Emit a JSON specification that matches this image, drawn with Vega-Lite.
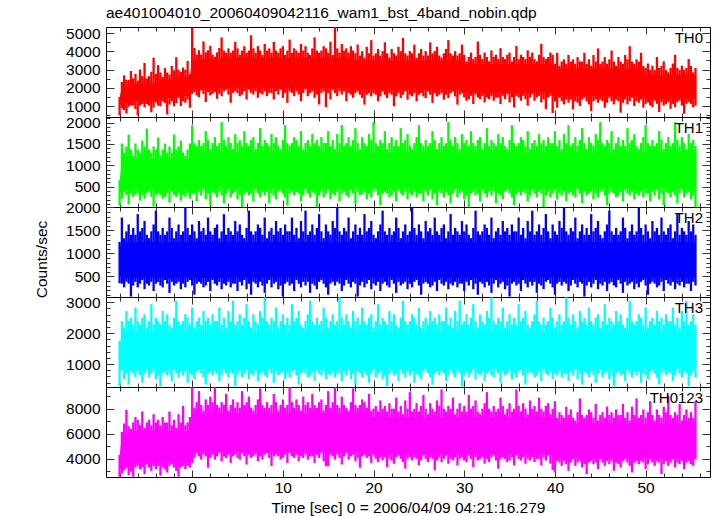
{
"$schema": "https://vega.github.io/schema/vega-lite/v6.json",
"background": "white",
"padding": {"left": 33, "top": 6, "right": 5, "bottom": 2},
"title": {"text": "ae401004010_20060409042116_wam1_bst_4band_nobin.qdp", "anchor": "start", "frame": "group", "fontSize": 15.5, "fontWeight": "normal", "font": "Liberation Sans", "color": "#000", "offset": 4},
"spacing": 0,
"bounds": "flush",
"datasets": {
"core": [
{"t":-8,"p":1000,"P":1450,"q":300,"Q":600,"r":500,"R":1100,"s":700,"S":1500,"u":3000,"U":4200},
{"t":-7.75,"p":1150,"P":2050,"q":450,"Q":1150,"r":470,"R":1250,"s":900,"S":2050,"u":3500,"U":5900},
{"t":-6.75,"p":1150,"P":2050,"q":450,"Q":1150,"r":470,"R":1250,"s":900,"S":2050,"u":3500,"U":5900},
{"t":-6.5,"p":1300,"P":2250,"q":450,"Q":1150,"r":470,"R":1250,"s":900,"S":2050,"u":3700,"U":6200},
{"t":-3.75,"p":1300,"P":2250,"q":450,"Q":1150,"r":470,"R":1250,"s":900,"S":2050,"u":3700,"U":6200},
{"t":-3.5,"p":1450,"P":2450,"q":450,"Q":1150,"r":470,"R":1250,"s":900,"S":2050,"u":3700,"U":6200},
{"t":-1.75,"p":1450,"P":2450,"q":450,"Q":1150,"r":470,"R":1250,"s":900,"S":2050,"u":3700,"U":6200},
{"t":-1.5,"p":1550,"P":2600,"q":450,"Q":1150,"r":470,"R":1250,"s":900,"S":2050,"u":3700,"U":6200},
{"t":-0.25,"p":1550,"P":2600,"q":450,"Q":1150,"r":470,"R":1250,"s":900,"S":2050,"u":3700,"U":6200},
{"t":0,"p":1950,"P":3550,"q":480,"Q":1300,"r":470,"R":1250,"s":900,"S":2050,"u":4600,"U":7600},
{"t":3,"p":1950,"P":3550,"q":480,"Q":1300,"r":470,"R":1250,"s":900,"S":2050,"u":4600,"U":7600},
{"t":3.25,"p":2000,"P":3650,"q":480,"Q":1300,"r":470,"R":1250,"s":900,"S":2050,"u":4600,"U":7600},
{"t":17.75,"p":2000,"P":3650,"q":480,"Q":1300,"r":470,"R":1250,"s":900,"S":2050,"u":4600,"U":7600},
{"t":18,"p":1900,"P":3500,"q":480,"Q":1300,"r":470,"R":1250,"s":900,"S":2050,"u":4600,"U":7600},
{"t":19.75,"p":1900,"P":3500,"q":480,"Q":1300,"r":470,"R":1250,"s":900,"S":2050,"u":4600,"U":7600},
{"t":20,"p":1900,"P":3500,"q":480,"Q":1300,"r":470,"R":1250,"s":900,"S":2050,"u":4400,"U":7300},
{"t":29.75,"p":1900,"P":3500,"q":480,"Q":1300,"r":470,"R":1250,"s":900,"S":2050,"u":4400,"U":7300},
{"t":30,"p":1750,"P":3300,"q":480,"Q":1300,"r":470,"R":1250,"s":900,"S":2050,"u":4400,"U":7300},
{"t":39.75,"p":1750,"P":3300,"q":480,"Q":1300,"r":470,"R":1250,"s":900,"S":2050,"u":4400,"U":7300},
{"t":40,"p":1550,"P":3050,"q":480,"Q":1300,"r":470,"R":1250,"s":900,"S":2050,"u":4100,"U":6800},
{"t":49.75,"p":1550,"P":3050,"q":480,"Q":1300,"r":470,"R":1250,"s":900,"S":2050,"u":4100,"U":6800},
{"t":50,"p":1400,"P":2700,"q":480,"Q":1300,"r":470,"R":1250,"s":900,"S":2050,"u":4100,"U":6800},
{"t":55.5,"p":1400,"P":2700,"q":480,"Q":1300,"r":470,"R":1250,"s":900,"S":2050,"u":4100,"U":6800}
],
"lc": [
{"t":-8,"a":500,"A":1500,"b":60,"B":650,"c":350,"C":1250,"d":290,"D":1750,"e":2560,"E":4300},
{"t":-7.75,"a":870,"A":2320,"b":220,"B":1510,"c":340,"C":1780,"d":820,"D":2390,"e":2830,"E":6150},
{"t":-7.5,"a":780,"A":2680,"b":400,"B":1300,"c":260,"C":1330,"d":520,"D":2170,"e":3090,"E":6810},
{"t":-7.25,"a":600,"A":2440,"b":310,"B":1440,"c":380,"C":1480,"d":700,"D":2720,"e":3220,"E":7910},
{"t":-7,"a":960,"A":2440,"b":85,"B":1720,"c":340,"C":1630,"d":340,"D":2390,"e":2700,"E":6590},
{"t":-6.75,"a":1050,"A":2920,"b":355,"B":1370,"c":60,"C":1405,"d":760,"D":2500,"e":2960,"E":6370},
{"t":-6.5,"a":1020,"A":2520,"b":265,"B":1230,"c":300,"C":1555,"d":700,"D":2280,"e":2560,"E":6890},
{"t":-6.25,"a":840,"A":2760,"b":310,"B":1510,"c":380,"C":1405,"d":580,"D":2830,"e":3290,"E":7330},
{"t":-6,"a":480,"A":2400,"b":355,"B":1370,"c":260,"C":1855,"d":760,"D":2390,"e":3420,"E":7110},
{"t":-5.75,"a":1020,"A":3000,"b":175,"B":1300,"c":340,"C":1480,"d":640,"D":2280,"e":3160,"E":6670},
{"t":-5.5,"a":1110,"A":2640,"b":310,"B":1580,"c":420,"C":1555,"d":400,"D":2500,"e":3290,"E":7770},
{"t":-5.25,"a":930,"A":3360,"b":220,"B":1440,"c":220,"C":1705,"d":700,"D":2610,"e":2770,"E":6450},
{"t":-5,"a":1110,"A":2520,"b":355,"B":1860,"c":340,"C":1405,"d":820,"D":2170,"e":3550,"E":6890},
{"t":-4.75,"a":1020,"A":2640,"b":400,"B":1370,"c":300,"C":1330,"d":580,"D":2390,"e":3290,"E":7110},
{"t":-4.5,"a":660,"A":2880,"b":265,"B":1300,"c":380,"C":1480,"d":700,"D":2940,"e":3030,"E":6670},
{"t":-4.25,"a":930,"A":3650,"b":40,"B":1440,"c":180,"C":1630,"d":760,"D":2280,"e":3420,"E":7550},
{"t":-4,"a":1200,"A":2760,"b":310,"B":1370,"c":340,"C":1930,"d":520,"D":2500,"e":3160,"E":6890},
{"t":-3.75,"a":1020,"A":3240,"b":355,"B":1650,"c":380,"C":1480,"d":640,"D":2390,"e":3420,"E":7110},
{"t":-3.5,"a":990,"A":2840,"b":310,"B":1230,"c":300,"C":1405,"d":280,"D":2280,"e":2640,"E":6670},
{"t":-3.25,"a":1260,"A":2600,"b":220,"B":1370,"c":260,"C":1555,"d":700,"D":2720,"e":3290,"E":7330},
{"t":-3,"a":1170,"A":3080,"b":265,"B":1510,"c":420,"C":1405,"d":760,"D":2390,"e":3160,"E":6890},
{"t":-2.75,"a":540,"A":2840,"b":355,"B":1300,"c":340,"C":1480,"d":640,"D":2610,"e":2900,"E":6890},
{"t":-2.5,"a":1080,"A":2720,"b":130,"B":1440,"c":140,"C":1780,"d":700,"D":2280,"e":3420,"E":7770},
{"t":-2.25,"a":1260,"A":3200,"b":400,"B":1300,"c":380,"C":1555,"d":460,"D":2170,"e":3550,"E":6670},
{"t":-2,"a":990,"A":2960,"b":310,"B":1720,"c":300,"C":1330,"d":820,"D":2500,"e":3290,"E":7110},
{"t":-1.75,"a":1170,"A":3680,"b":265,"B":1370,"c":340,"C":1480,"d":700,"D":3050,"e":3030,"E":6450},
{"t":-1.5,"a":1450,"A":2990,"b":355,"B":1440,"c":380,"C":1630,"d":580,"D":2390,"e":2560,"E":7550},
{"t":-1.25,"a":1000,"A":2870,"b":175,"B":1580,"c":220,"C":1405,"d":760,"D":2280,"e":3290,"E":6890},
{"t":-1,"a":1270,"A":3110,"b":310,"B":1300,"c":340,"C":1480,"d":640,"D":2390,"e":3420,"E":8210},
{"t":-0.75,"a":1180,"A":2990,"b":265,"B":1230,"c":260,"C":2005,"d":760,"D":2610,"e":3160,"E":6670},
{"t":-0.5,"a":1360,"A":3470,"b":355,"B":1370,"c":380,"C":1555,"d":400,"D":2500,"e":3420,"E":6890},
{"t":-0.25,"a":910,"A":2750,"b":220,"B":1510,"c":420,"C":1405,"d":700,"D":2280,"e":3290,"E":7330},
{"t":0,"a":1670,"A":5300,"b":340,"B":1940,"c":300,"C":1630,"d":640,"D":2830,"e":3670,"E":9700},
{"t":0.25,"a":1760,"A":4180,"b":340,"B":1520,"c":100,"C":1480,"d":520,"D":2170,"e":4060,"E":8070},
{"t":0.5,"a":1580,"A":3820,"b":160,"B":1450,"c":340,"C":1330,"d":760,"D":2390,"e":4450,"E":8510},
{"t":0.75,"a":1490,"A":4060,"b":385,"B":1590,"c":380,"C":1705,"d":820,"D":2500,"e":4190,"E":9390},
{"t":1,"a":1850,"A":3820,"b":295,"B":1450,"c":340,"C":1480,"d":700,"D":2280,"e":3930,"E":8290},
{"t":1.25,"a":1670,"A":4540,"b":430,"B":1520,"c":260,"C":1555,"d":580,"D":2720,"e":4320,"E":7850},
{"t":1.5,"a":1220,"A":3940,"b":205,"B":1800,"c":300,"C":1405,"d":340,"D":2390,"e":4190,"E":8730},
{"t":1.75,"a":1760,"A":4060,"b":340,"B":1590,"c":380,"C":1780,"d":700,"D":2500,"e":3280,"E":8290},
{"t":2,"a":1580,"A":4300,"b":70,"B":1380,"c":180,"C":1480,"d":760,"D":2280,"e":4060,"E":8950},
{"t":2.25,"a":1670,"A":3820,"b":385,"B":1520,"c":420,"C":1405,"d":640,"D":2610,"e":4320,"E":8510},
{"t":2.5,"a":1760,"A":3700,"b":340,"B":1660,"c":340,"C":1555,"d":760,"D":2390,"e":3930,"E":9700},
{"t":2.75,"a":1400,"A":3940,"b":250,"B":1450,"c":300,"C":1630,"d":700,"D":2390,"e":4190,"E":8290},
{"t":3,"a":1670,"A":4180,"b":385,"B":1520,"c":380,"C":1330,"d":460,"D":2830,"e":4450,"E":8070},
{"t":3.25,"a":1540,"A":4760,"b":295,"B":2010,"c":220,"C":1480,"d":640,"D":2280,"e":3800,"E":8510},
{"t":3.5,"a":1810,"A":4040,"b":115,"B":1590,"c":340,"C":1855,"d":820,"D":2500,"e":4190,"E":8290},
{"t":3.75,"a":1900,"A":3920,"b":340,"B":1450,"c":300,"C":1405,"d":700,"D":2170,"e":4060,"E":9170},
{"t":4,"a":1630,"A":4160,"b":430,"B":1660,"c":380,"C":1555,"d":580,"D":2720,"e":4320,"E":7850},
{"t":4.25,"a":1180,"A":3920,"b":250,"B":1520,"c":260,"C":1480,"d":760,"D":2390,"e":3670,"E":8290},
{"t":4.5,"a":1720,"A":4040,"b":340,"B":1380,"c":340,"C":1405,"d":700,"D":3050,"e":4190,"E":8730},
{"t":4.75,"a":1810,"A":4520,"b":385,"B":1730,"c":340,"C":1705,"d":280,"D":2280,"e":4320,"E":8070},
{"t":5,"a":1720,"A":4160,"b":205,"B":1520,"c":180,"C":1480,"d":640,"D":2390,"e":4060,"E":8510},
{"t":5.25,"a":1540,"A":3800,"b":295,"B":1590,"c":380,"C":1630,"d":760,"D":2610,"e":3930,"E":8070},
{"t":5.5,"a":1630,"A":4040,"b":25,"B":1450,"c":300,"C":1405,"d":580,"D":2280,"e":4450,"E":9390},
{"t":5.75,"a":1810,"A":4280,"b":340,"B":1800,"c":420,"C":1330,"d":700,"D":2500,"e":4190,"E":8290},
{"t":6,"a":1360,"A":3920,"b":385,"B":1520,"c":220,"C":1555,"d":820,"D":2940,"e":3540,"E":8510},
{"t":6.25,"a":1900,"A":4040,"b":295,"B":1450,"c":340,"C":1930,"d":520,"D":2390,"e":4320,"E":8950},
{"t":6.5,"a":1720,"A":4880,"b":340,"B":1590,"c":100,"C":1480,"d":700,"D":2170,"e":4060,"E":8070},
{"t":6.75,"a":1630,"A":4160,"b":160,"B":1660,"c":380,"C":1405,"d":640,"D":2610,"e":4190,"E":7850},
{"t":7,"a":1810,"A":3920,"b":430,"B":1380,"c":340,"C":1480,"d":760,"D":2390,"e":4320,"E":8290},
{"t":7.25,"a":1450,"A":4280,"b":340,"B":1520,"c":260,"C":1630,"d":460,"D":2280,"e":3800,"E":8730},
{"t":7.5,"a":1720,"A":4040,"b":250,"B":1870,"c":380,"C":1555,"d":700,"D":2720,"e":4190,"E":9610},
{"t":7.75,"a":1630,"A":3800,"b":385,"B":1450,"c":300,"C":1405,"d":760,"D":2500,"e":3930,"E":8290},
{"t":8,"a":1810,"A":4400,"b":295,"B":1590,"c":140,"C":1780,"d":640,"D":3160,"e":4320,"E":8070},
{"t":8.25,"a":1540,"A":4040,"b":385,"B":1520,"c":340,"C":1330,"d":580,"D":2390,"e":4450,"E":8510},
{"t":8.5,"a":1720,"A":4160,"b":115,"B":1450,"c":420,"C":1480,"d":820,"D":2280,"e":4060,"E":8070},
{"t":8.75,"a":1720,"A":3920,"b":340,"B":1730,"c":260,"C":1555,"d":700,"D":2500,"e":3410,"E":8290},
{"t":9,"a":1360,"A":4520,"b":295,"B":1520,"c":340,"C":1405,"d":400,"D":2390,"e":4190,"E":9170},
{"t":9.25,"a":1810,"A":4040,"b":205,"B":1660,"c":380,"C":1705,"d":760,"D":2830,"e":4320,"E":8510},
{"t":9.5,"a":1630,"A":3920,"b":385,"B":1450,"c":220,"C":1480,"d":640,"D":2170,"e":4190,"E":7850},
{"t":9.75,"a":1900,"A":4160,"b":430,"B":1380,"c":300,"C":1555,"d":700,"D":2390,"e":3930,"E":8290},
{"t":10,"a":1450,"A":4280,"b":340,"B":1590,"c":60,"C":1405,"d":760,"D":2610,"e":4060,"E":8730},
{"t":10.25,"a":1720,"A":3800,"b":250,"B":1940,"c":340,"C":1630,"d":520,"D":2280,"e":4320,"E":8070},
{"t":10.5,"a":1180,"A":4040,"b":70,"B":1520,"c":380,"C":1480,"d":700,"D":2500,"e":3670,"E":8290},
{"t":10.75,"a":1810,"A":4640,"b":340,"B":1450,"c":300,"C":1480,"d":580,"D":2280,"e":4450,"E":9700},
{"t":11,"a":1720,"A":3920,"b":385,"B":1520,"c":340,"C":1780,"d":760,"D":2940,"e":4190,"E":8510},
{"t":11.25,"a":1540,"A":4160,"b":295,"B":1660,"c":180,"C":1405,"d":820,"D":2390,"e":4060,"E":8070},
{"t":11.5,"a":1810,"A":4040,"b":385,"B":1590,"c":420,"C":1555,"d":640,"D":2500,"e":4320,"E":8730},
{"t":11.75,"a":1630,"A":3920,"b":340,"B":1450,"c":340,"C":1330,"d":340,"D":2720,"e":3800,"E":8290},
{"t":12,"a":1270,"A":4400,"b":160,"B":1800,"c":260,"C":1705,"d":700,"D":2280,"e":4190,"E":7850},
{"t":12.25,"a":1720,"A":4040,"b":295,"B":1380,"c":380,"C":1480,"d":760,"D":2170,"e":4060,"E":8950},
{"t":12.5,"a":1900,"A":4280,"b":430,"B":1520,"c":300,"C":1930,"d":700,"D":2390,"e":4320,"E":8290},
{"t":12.75,"a":1540,"A":3920,"b":340,"B":1590,"c":380,"C":1405,"d":580,"D":2610,"e":3930,"E":8510},
{"t":13,"a":1720,"A":3800,"b":250,"B":1450,"c":140,"C":1480,"d":640,"D":3050,"e":4190,"E":8070},
{"t":13.25,"a":1810,"A":4160,"b":385,"B":1730,"c":340,"C":1630,"d":760,"D":2390,"e":4190,"E":9170},
{"t":13.5,"a":1450,"A":4760,"b":340,"B":1520,"c":300,"C":1405,"d":460,"D":2280,"e":3670,"E":8290},
{"t":13.75,"a":1630,"A":4040,"b":25,"B":1590,"c":220,"C":1555,"d":820,"D":2500,"e":4320,"E":8070},
{"t":14,"a":1090,"A":3920,"b":295,"B":1450,"c":380,"C":1855,"d":700,"D":2280,"e":4060,"E":8510},
{"t":14.25,"a":1720,"A":4040,"b":385,"B":1660,"c":420,"C":1480,"d":640,"D":2390,"e":4450,"E":8730},
{"t":14.5,"a":1810,"A":4280,"b":250,"B":1520,"c":340,"C":1330,"d":760,"D":2830,"e":3800,"E":7850},
{"t":14.75,"a":950,"A":4160,"b":340,"B":1520,"c":260,"C":1630,"d":520,"D":2500,"e":3400,"E":8290},
{"t":15,"a":1720,"A":3920,"b":430,"B":1800,"c":100,"C":1480,"d":700,"D":2170,"e":3410,"E":9390},
{"t":15.25,"a":1360,"A":4520,"b":205,"B":1450,"c":340,"C":1405,"d":640,"D":2390,"e":4320,"E":8070},
{"t":15.5,"a":1900,"A":3800,"b":340,"B":1590,"c":380,"C":1705,"d":760,"D":2610,"e":4190,"E":8510},
{"t":15.75,"a":1720,"A":5330,"b":295,"B":1380,"c":300,"C":1555,"d":580,"D":2280,"e":3930,"E":9700},
{"t":16,"a":1540,"A":4160,"b":385,"B":1730,"c":380,"C":2005,"d":700,"D":2390,"e":4320,"E":8290},
{"t":16.25,"a":1810,"A":3920,"b":160,"B":1520,"c":340,"C":1480,"d":700,"D":3160,"e":4060,"E":8070},
{"t":16.5,"a":1630,"A":4400,"b":340,"B":1940,"c":180,"C":1405,"d":460,"D":2500,"e":3540,"E":8950},
{"t":16.75,"a":1810,"A":4040,"b":385,"B":1450,"c":300,"C":1555,"d":760,"D":2280,"e":4190,"E":8290},
{"t":17,"a":1270,"A":4160,"b":295,"B":1520,"c":420,"C":1480,"d":640,"D":2610,"e":4450,"E":8070},
{"t":17.25,"a":1720,"A":3920,"b":250,"B":1660,"c":340,"C":1780,"d":820,"D":2390,"e":3930,"E":7850},
{"t":17.5,"a":1630,"A":4280,"b":430,"B":1450,"c":260,"C":1330,"d":520,"D":2170,"e":4190,"E":8510},
{"t":17.75,"a":1450,"A":4040,"b":340,"B":1590,"c":380,"C":1480,"d":700,"D":2720,"e":4320,"E":9610},
{"t":18,"a":1710,"A":3890,"b":115,"B":1870,"c":340,"C":1630,"d":340,"D":2390,"e":3800,"E":8290},
{"t":18.25,"a":1800,"A":4370,"b":385,"B":1520,"c":60,"C":1405,"d":760,"D":2500,"e":4060,"E":8070},
{"t":18.5,"a":1620,"A":3770,"b":295,"B":1380,"c":300,"C":1555,"d":700,"D":2280,"e":3280,"E":8290},
{"t":18.75,"a":1440,"A":4010,"b":340,"B":1660,"c":380,"C":1405,"d":580,"D":2830,"e":4190,"E":8730},
{"t":19,"a":1080,"A":3650,"b":385,"B":1520,"c":260,"C":1855,"d":760,"D":2390,"e":4320,"E":8510},
{"t":19.25,"a":1620,"A":4250,"b":205,"B":1450,"c":340,"C":1480,"d":640,"D":2280,"e":4060,"E":8070},
{"t":19.5,"a":1710,"A":3890,"b":340,"B":1730,"c":420,"C":1555,"d":400,"D":2500,"e":4190,"E":9170},
{"t":19.75,"a":1530,"A":4610,"b":250,"B":1590,"c":220,"C":1705,"d":700,"D":2610,"e":3670,"E":7850},
{"t":20,"a":1710,"A":3770,"b":385,"B":2010,"c":340,"C":1405,"d":820,"D":2170,"e":4250,"E":7990},
{"t":20.25,"a":1620,"A":3890,"b":430,"B":1520,"c":300,"C":1330,"d":580,"D":2390,"e":3990,"E":8210},
{"t":20.5,"a":1260,"A":4130,"b":295,"B":1450,"c":380,"C":1480,"d":700,"D":2940,"e":3730,"E":7770},
{"t":20.75,"a":1530,"A":3770,"b":70,"B":1590,"c":180,"C":1630,"d":760,"D":2280,"e":4120,"E":8650},
{"t":21,"a":1800,"A":4010,"b":340,"B":1520,"c":340,"C":1930,"d":520,"D":2500,"e":3860,"E":7990},
{"t":21.25,"a":1620,"A":4490,"b":385,"B":1800,"c":380,"C":1480,"d":640,"D":2390,"e":4120,"E":8210},
{"t":21.5,"a":1440,"A":3890,"b":340,"B":1380,"c":300,"C":1405,"d":280,"D":2280,"e":3340,"E":7770},
{"t":21.75,"a":1710,"A":3650,"b":250,"B":1520,"c":260,"C":1555,"d":700,"D":2720,"e":3990,"E":8430},
{"t":22,"a":1620,"A":4130,"b":295,"B":1660,"c":420,"C":1405,"d":760,"D":2390,"e":3860,"E":7990},
{"t":22.25,"a":990,"A":3890,"b":385,"B":1450,"c":340,"C":1480,"d":640,"D":2610,"e":3600,"E":7990},
{"t":22.5,"a":1530,"A":3770,"b":160,"B":1590,"c":140,"C":1780,"d":700,"D":2280,"e":4120,"E":8870},
{"t":22.75,"a":1710,"A":4250,"b":430,"B":1450,"c":380,"C":1555,"d":460,"D":2170,"e":4250,"E":7770},
{"t":23,"a":1440,"A":4010,"b":340,"B":1870,"c":300,"C":1330,"d":820,"D":2500,"e":3990,"E":8210},
{"t":23.25,"a":1620,"A":4730,"b":295,"B":1520,"c":340,"C":1480,"d":700,"D":3050,"e":3730,"E":7550},
{"t":23.5,"a":1800,"A":3890,"b":385,"B":1590,"c":380,"C":1630,"d":580,"D":2390,"e":3210,"E":8650},
{"t":23.75,"a":1350,"A":3770,"b":205,"B":1730,"c":220,"C":1405,"d":760,"D":2280,"e":3990,"E":7990},
{"t":24,"a":1620,"A":4010,"b":340,"B":1450,"c":340,"C":1480,"d":640,"D":2390,"e":4120,"E":9310},
{"t":24.25,"a":1530,"A":3890,"b":295,"B":1380,"c":260,"C":2005,"d":760,"D":2610,"e":3860,"E":7770},
{"t":24.5,"a":1710,"A":4370,"b":385,"B":1520,"c":380,"C":1555,"d":400,"D":2500,"e":4120,"E":7990},
{"t":24.75,"a":1260,"A":3650,"b":250,"B":1660,"c":420,"C":1405,"d":700,"D":2280,"e":3990,"E":8430},
{"t":25,"a":1620,"A":3890,"b":340,"B":1940,"c":300,"C":1630,"d":640,"D":2830,"e":3470,"E":7770},
{"t":25.25,"a":1710,"A":4130,"b":340,"B":1520,"c":100,"C":1480,"d":520,"D":2170,"e":3860,"E":8210},
{"t":25.5,"a":1530,"A":3770,"b":160,"B":1450,"c":340,"C":1330,"d":760,"D":2390,"e":4250,"E":9090},
{"t":25.75,"a":1440,"A":4010,"b":385,"B":1590,"c":380,"C":1705,"d":820,"D":2500,"e":3990,"E":7990},
{"t":26,"a":1800,"A":3770,"b":295,"B":1450,"c":340,"C":1480,"d":700,"D":2280,"e":3730,"E":7550},
{"t":26.25,"a":1620,"A":4490,"b":430,"B":1520,"c":260,"C":1555,"d":580,"D":2720,"e":4120,"E":8430},
{"t":26.5,"a":1170,"A":3890,"b":205,"B":1800,"c":300,"C":1405,"d":340,"D":2390,"e":3990,"E":7990},
{"t":26.75,"a":1710,"A":4010,"b":340,"B":1590,"c":380,"C":1780,"d":700,"D":2500,"e":3080,"E":7770},
{"t":27,"a":1530,"A":4250,"b":70,"B":1380,"c":180,"C":1480,"d":760,"D":2280,"e":3860,"E":8650},
{"t":27.25,"a":1620,"A":3770,"b":385,"B":1520,"c":420,"C":1405,"d":640,"D":2610,"e":4120,"E":8210},
{"t":27.5,"a":1710,"A":3650,"b":340,"B":1660,"c":340,"C":1555,"d":760,"D":2390,"e":3730,"E":9530},
{"t":27.75,"a":1350,"A":3890,"b":250,"B":1450,"c":300,"C":1630,"d":700,"D":2390,"e":3990,"E":7990},
{"t":28,"a":1620,"A":4130,"b":385,"B":1520,"c":380,"C":1330,"d":460,"D":2830,"e":4250,"E":7770},
{"t":28.25,"a":1440,"A":4610,"b":295,"B":2010,"c":220,"C":1480,"d":640,"D":2280,"e":3600,"E":8210},
{"t":28.5,"a":1710,"A":3890,"b":115,"B":1590,"c":340,"C":1855,"d":820,"D":2500,"e":3990,"E":7990},
{"t":28.75,"a":1800,"A":3770,"b":340,"B":1450,"c":300,"C":1405,"d":700,"D":2170,"e":3860,"E":8870},
{"t":29,"a":1530,"A":4010,"b":430,"B":1660,"c":380,"C":1555,"d":580,"D":2720,"e":4120,"E":7550},
{"t":29.25,"a":1080,"A":3770,"b":250,"B":1520,"c":260,"C":1480,"d":760,"D":2390,"e":3470,"E":7990},
{"t":29.5,"a":1620,"A":3890,"b":340,"B":1380,"c":340,"C":1405,"d":700,"D":3050,"e":3990,"E":8430},
{"t":29.75,"a":1710,"A":4370,"b":385,"B":1730,"c":340,"C":1705,"d":280,"D":2280,"e":4120,"E":7770},
{"t":30,"a":1470,"A":3810,"b":205,"B":1520,"c":180,"C":1480,"d":640,"D":2390,"e":3860,"E":8210},
{"t":30.25,"a":1290,"A":3450,"b":295,"B":1590,"c":380,"C":1630,"d":760,"D":2610,"e":3730,"E":7770},
{"t":30.5,"a":1380,"A":3690,"b":25,"B":1450,"c":300,"C":1405,"d":580,"D":2280,"e":4250,"E":9090},
{"t":30.75,"a":1560,"A":3930,"b":340,"B":1800,"c":420,"C":1330,"d":700,"D":2500,"e":3990,"E":7990},
{"t":31,"a":1110,"A":3570,"b":385,"B":1520,"c":220,"C":1555,"d":820,"D":2940,"e":3340,"E":8210},
{"t":31.25,"a":1650,"A":3690,"b":295,"B":1450,"c":340,"C":1930,"d":520,"D":2390,"e":4120,"E":8650},
{"t":31.5,"a":1470,"A":4530,"b":340,"B":1590,"c":100,"C":1480,"d":700,"D":2170,"e":3860,"E":7770},
{"t":31.75,"a":1380,"A":3810,"b":160,"B":1660,"c":380,"C":1405,"d":640,"D":2610,"e":3990,"E":7550},
{"t":32,"a":1560,"A":3570,"b":430,"B":1380,"c":340,"C":1480,"d":760,"D":2390,"e":4120,"E":7990},
{"t":32.25,"a":1200,"A":3930,"b":340,"B":1520,"c":260,"C":1630,"d":460,"D":2280,"e":3600,"E":8430},
{"t":32.5,"a":1470,"A":3690,"b":250,"B":1870,"c":380,"C":1555,"d":700,"D":2720,"e":3990,"E":9310},
{"t":32.75,"a":1380,"A":3450,"b":385,"B":1450,"c":300,"C":1405,"d":760,"D":2500,"e":3730,"E":7990},
{"t":33,"a":1560,"A":4050,"b":295,"B":1590,"c":140,"C":1780,"d":640,"D":3160,"e":4120,"E":7770},
{"t":33.25,"a":1290,"A":3690,"b":385,"B":1520,"c":340,"C":1330,"d":580,"D":2390,"e":4250,"E":8210},
{"t":33.5,"a":1470,"A":3810,"b":115,"B":1450,"c":420,"C":1480,"d":820,"D":2280,"e":3860,"E":7770},
{"t":33.75,"a":1470,"A":3570,"b":340,"B":1730,"c":260,"C":1555,"d":700,"D":2500,"e":3210,"E":7990},
{"t":34,"a":1110,"A":4170,"b":295,"B":1520,"c":340,"C":1405,"d":400,"D":2390,"e":3990,"E":8870},
{"t":34.25,"a":1560,"A":3690,"b":205,"B":1660,"c":380,"C":1705,"d":760,"D":2830,"e":4120,"E":8210},
{"t":34.5,"a":1380,"A":3570,"b":385,"B":1450,"c":220,"C":1480,"d":640,"D":2170,"e":3990,"E":7550},
{"t":34.75,"a":1650,"A":3810,"b":430,"B":1380,"c":300,"C":1555,"d":700,"D":2390,"e":3730,"E":7990},
{"t":35,"a":1200,"A":3930,"b":340,"B":1590,"c":60,"C":1405,"d":760,"D":2610,"e":3860,"E":8430},
{"t":35.25,"a":1470,"A":3450,"b":250,"B":1940,"c":340,"C":1630,"d":520,"D":2280,"e":4120,"E":7770},
{"t":35.5,"a":930,"A":3690,"b":70,"B":1520,"c":380,"C":1480,"d":700,"D":2500,"e":3470,"E":7990},
{"t":35.75,"a":1560,"A":4290,"b":340,"B":1450,"c":300,"C":1480,"d":580,"D":2280,"e":4250,"E":9530},
{"t":36,"a":1470,"A":3570,"b":385,"B":1520,"c":340,"C":1780,"d":760,"D":2940,"e":3990,"E":8210},
{"t":36.25,"a":1290,"A":3810,"b":295,"B":1660,"c":180,"C":1405,"d":820,"D":2390,"e":3860,"E":7770},
{"t":36.5,"a":1560,"A":3690,"b":385,"B":1590,"c":420,"C":1555,"d":640,"D":2500,"e":4120,"E":8430},
{"t":36.75,"a":1380,"A":3570,"b":340,"B":1450,"c":340,"C":1330,"d":340,"D":2720,"e":3600,"E":7990},
{"t":37,"a":1020,"A":4050,"b":160,"B":1800,"c":260,"C":1705,"d":700,"D":2280,"e":3990,"E":7550},
{"t":37.25,"a":1470,"A":3690,"b":295,"B":1380,"c":380,"C":1480,"d":760,"D":2170,"e":3860,"E":8650},
{"t":37.5,"a":1650,"A":3930,"b":430,"B":1520,"c":300,"C":1930,"d":700,"D":2390,"e":4120,"E":7990},
{"t":37.75,"a":1290,"A":3570,"b":340,"B":1590,"c":380,"C":1405,"d":580,"D":2610,"e":3730,"E":8210},
{"t":38,"a":1470,"A":3450,"b":250,"B":1450,"c":140,"C":1480,"d":640,"D":3050,"e":3990,"E":7770},
{"t":38.25,"a":1560,"A":3810,"b":385,"B":1730,"c":340,"C":1630,"d":760,"D":2390,"e":3990,"E":8870},
{"t":38.5,"a":1200,"A":4410,"b":340,"B":1520,"c":300,"C":1405,"d":460,"D":2280,"e":3470,"E":7990},
{"t":38.75,"a":1380,"A":3690,"b":25,"B":1590,"c":220,"C":1555,"d":820,"D":2500,"e":4120,"E":7770},
{"t":39,"a":840,"A":3570,"b":295,"B":1450,"c":380,"C":1855,"d":700,"D":2280,"e":3860,"E":8210},
{"t":39.25,"a":1470,"A":3690,"b":385,"B":1660,"c":420,"C":1480,"d":640,"D":2390,"e":4250,"E":8430},
{"t":39.5,"a":1560,"A":3930,"b":250,"B":1520,"c":340,"C":1330,"d":760,"D":2830,"e":3600,"E":7550},
{"t":39.75,"a":620,"A":3810,"b":340,"B":1520,"c":260,"C":1630,"d":520,"D":2500,"e":3100,"E":7990},
{"t":40,"a":1270,"A":3320,"b":430,"B":1800,"c":100,"C":1480,"d":700,"D":2170,"e":2910,"E":8590},
{"t":40.25,"a":910,"A":3920,"b":205,"B":1450,"c":340,"C":1405,"d":640,"D":2390,"e":3820,"E":7270},
{"t":40.5,"a":1450,"A":3200,"b":340,"B":1590,"c":380,"C":1705,"d":760,"D":2610,"e":3690,"E":7710},
{"t":40.75,"a":1270,"A":3440,"b":295,"B":1380,"c":300,"C":1555,"d":580,"D":2280,"e":3430,"E":7490},
{"t":41,"a":1090,"A":3560,"b":385,"B":1730,"c":380,"C":2005,"d":700,"D":2390,"e":3820,"E":7270},
{"t":41.25,"a":1360,"A":3320,"b":160,"B":1520,"c":340,"C":1480,"d":700,"D":3160,"e":3560,"E":8150},
{"t":41.5,"a":1180,"A":3800,"b":340,"B":1940,"c":180,"C":1405,"d":460,"D":2500,"e":3040,"E":7490},
{"t":41.75,"a":1360,"A":3440,"b":385,"B":1450,"c":300,"C":1555,"d":760,"D":2280,"e":3690,"E":7930},
{"t":42,"a":820,"A":3560,"b":295,"B":1520,"c":420,"C":1480,"d":640,"D":2610,"e":3950,"E":7270},
{"t":42.25,"a":1270,"A":3320,"b":250,"B":1660,"c":340,"C":1780,"d":820,"D":2390,"e":3430,"E":7050},
{"t":42.5,"a":1180,"A":3680,"b":430,"B":1450,"c":260,"C":1330,"d":520,"D":2170,"e":3690,"E":7710},
{"t":42.75,"a":1000,"A":3440,"b":340,"B":1590,"c":380,"C":1480,"d":700,"D":2720,"e":3820,"E":8810},
{"t":43,"a":1360,"A":3440,"b":115,"B":1870,"c":340,"C":1630,"d":340,"D":2390,"e":3300,"E":7490},
{"t":43.25,"a":1450,"A":3920,"b":385,"B":1520,"c":60,"C":1405,"d":760,"D":2500,"e":3560,"E":7270},
{"t":43.5,"a":1270,"A":3320,"b":295,"B":1380,"c":300,"C":1555,"d":700,"D":2280,"e":2780,"E":7490},
{"t":43.75,"a":1090,"A":3560,"b":340,"B":1660,"c":380,"C":1405,"d":580,"D":2830,"e":3690,"E":7930},
{"t":44,"a":730,"A":3200,"b":385,"B":1520,"c":260,"C":1855,"d":760,"D":2390,"e":3820,"E":7710},
{"t":44.25,"a":1270,"A":3800,"b":205,"B":1450,"c":340,"C":1480,"d":640,"D":2280,"e":3560,"E":7270},
{"t":44.5,"a":1360,"A":3440,"b":340,"B":1730,"c":420,"C":1555,"d":400,"D":2500,"e":3690,"E":8370},
{"t":44.75,"a":1180,"A":4160,"b":250,"B":1590,"c":220,"C":1705,"d":700,"D":2610,"e":3170,"E":7050},
{"t":45,"a":1360,"A":3320,"b":385,"B":2010,"c":340,"C":1405,"d":820,"D":2170,"e":3950,"E":7490},
{"t":45.25,"a":1270,"A":3440,"b":430,"B":1520,"c":300,"C":1330,"d":580,"D":2390,"e":3690,"E":7710},
{"t":45.5,"a":910,"A":3680,"b":295,"B":1450,"c":380,"C":1480,"d":700,"D":2940,"e":3430,"E":7270},
{"t":45.75,"a":1180,"A":3320,"b":70,"B":1590,"c":180,"C":1630,"d":760,"D":2280,"e":3820,"E":8150},
{"t":46,"a":1450,"A":3560,"b":340,"B":1520,"c":340,"C":1930,"d":520,"D":2500,"e":3560,"E":7490},
{"t":46.25,"a":1270,"A":4040,"b":385,"B":1800,"c":380,"C":1480,"d":640,"D":2390,"e":3820,"E":7710},
{"t":46.5,"a":1090,"A":3440,"b":340,"B":1380,"c":300,"C":1405,"d":280,"D":2280,"e":3040,"E":7270},
{"t":46.75,"a":1360,"A":3200,"b":250,"B":1520,"c":260,"C":1555,"d":700,"D":2720,"e":3690,"E":7930},
{"t":47,"a":1270,"A":3680,"b":295,"B":1660,"c":420,"C":1405,"d":760,"D":2390,"e":3560,"E":7490},
{"t":47.25,"a":640,"A":3440,"b":385,"B":1450,"c":340,"C":1480,"d":640,"D":2610,"e":3300,"E":7490},
{"t":47.5,"a":1180,"A":3320,"b":160,"B":1590,"c":140,"C":1780,"d":700,"D":2280,"e":3820,"E":8370},
{"t":47.75,"a":1360,"A":3800,"b":430,"B":1450,"c":380,"C":1555,"d":460,"D":2170,"e":3950,"E":7270},
{"t":48,"a":1090,"A":3560,"b":340,"B":1870,"c":300,"C":1330,"d":820,"D":2500,"e":3690,"E":7710},
{"t":48.25,"a":1270,"A":4280,"b":295,"B":1520,"c":340,"C":1480,"d":700,"D":3050,"e":3430,"E":7050},
{"t":48.5,"a":1450,"A":3440,"b":385,"B":1590,"c":380,"C":1630,"d":580,"D":2390,"e":2910,"E":8150},
{"t":48.75,"a":1000,"A":3320,"b":205,"B":1730,"c":220,"C":1405,"d":760,"D":2280,"e":3690,"E":7490},
{"t":49,"a":1270,"A":3560,"b":340,"B":1450,"c":340,"C":1480,"d":640,"D":2390,"e":3820,"E":8810},
{"t":49.25,"a":1180,"A":3440,"b":295,"B":1380,"c":260,"C":2005,"d":760,"D":2610,"e":3560,"E":7270},
{"t":49.5,"a":1360,"A":3920,"b":385,"B":1520,"c":380,"C":1555,"d":400,"D":2500,"e":3820,"E":7490},
{"t":49.75,"a":910,"A":3200,"b":250,"B":1660,"c":420,"C":1405,"d":700,"D":2280,"e":3690,"E":7930},
{"t":50,"a":1120,"A":3090,"b":340,"B":1940,"c":300,"C":1630,"d":640,"D":2830,"e":3170,"E":7270},
{"t":50.25,"a":1210,"A":3330,"b":340,"B":1520,"c":100,"C":1480,"d":520,"D":2170,"e":3560,"E":7710},
{"t":50.5,"a":1030,"A":2970,"b":160,"B":1450,"c":340,"C":1330,"d":760,"D":2390,"e":3950,"E":8590},
{"t":50.75,"a":940,"A":3210,"b":385,"B":1590,"c":380,"C":1705,"d":820,"D":2500,"e":3690,"E":7490},
{"t":51,"a":1300,"A":2970,"b":295,"B":1450,"c":340,"C":1480,"d":700,"D":2280,"e":3430,"E":7050},
{"t":51.25,"a":1120,"A":3690,"b":430,"B":1520,"c":260,"C":1555,"d":580,"D":2720,"e":3820,"E":7930},
{"t":51.5,"a":670,"A":3090,"b":205,"B":1800,"c":300,"C":1405,"d":340,"D":2390,"e":3690,"E":7490},
{"t":51.75,"a":1210,"A":3210,"b":340,"B":1590,"c":380,"C":1780,"d":700,"D":2500,"e":2780,"E":7270},
{"t":52,"a":1030,"A":3450,"b":70,"B":1380,"c":180,"C":1480,"d":760,"D":2280,"e":3560,"E":8150},
{"t":52.25,"a":1120,"A":2970,"b":385,"B":1520,"c":420,"C":1405,"d":640,"D":2610,"e":3820,"E":7710},
{"t":52.5,"a":1210,"A":2850,"b":340,"B":1660,"c":340,"C":1555,"d":760,"D":2390,"e":3430,"E":9030},
{"t":52.75,"a":850,"A":3090,"b":250,"B":1450,"c":300,"C":1630,"d":700,"D":2390,"e":3690,"E":7490},
{"t":53,"a":1120,"A":3330,"b":385,"B":1520,"c":380,"C":1330,"d":460,"D":2830,"e":3950,"E":7270},
{"t":53.25,"a":940,"A":3810,"b":295,"B":2010,"c":220,"C":1480,"d":640,"D":2280,"e":3300,"E":7710},
{"t":53.5,"a":1210,"A":3090,"b":115,"B":1590,"c":340,"C":1855,"d":820,"D":2500,"e":3690,"E":7490},
{"t":53.75,"a":1300,"A":2970,"b":340,"B":1450,"c":300,"C":1405,"d":700,"D":2170,"e":3560,"E":8370},
{"t":54,"a":1030,"A":3210,"b":430,"B":1660,"c":380,"C":1555,"d":580,"D":2720,"e":3820,"E":7050},
{"t":54.25,"a":580,"A":2970,"b":250,"B":1520,"c":260,"C":1480,"d":760,"D":2390,"e":3170,"E":7490},
{"t":54.5,"a":1120,"A":3090,"b":340,"B":1380,"c":340,"C":1405,"d":700,"D":3050,"e":3690,"E":7930},
{"t":54.75,"a":1210,"A":3570,"b":385,"B":1730,"c":340,"C":1705,"d":280,"D":2280,"e":3820,"E":7270},
{"t":55,"a":1120,"A":3210,"b":205,"B":1520,"c":180,"C":1480,"d":640,"D":2390,"e":3560,"E":7710},
{"t":55.25,"a":940,"A":2850,"b":295,"B":1590,"c":380,"C":1630,"d":760,"D":2610,"e":3430,"E":7270},
{"t":55.5,"a":1030,"A":3090,"b":25,"B":1450,"c":300,"C":1405,"d":580,"D":2280,"e":3950,"E":8590}
]
},
"vconcat": [
{"width": 604, "height": 90,
 "layer": [
  {"data": {"name": "core"}, "mark": {"type": "area", "color": "#ff0000", "opacity": 1},
   "encoding": {
    "x": {"field": "t", "type": "quantitative", "scale": {"domain": [-9.5, 57.1], "nice": false, "zero": false}, "axis": {"orient": "bottom", "values": [-8,-6,-4,-2,0,2,4,6,8,10,12,14,16,18,20,22,24,26,28,30,32,34,36,38,40,42,44,46,48,50,52,54,56], "labels": false, "title": null, "tickSize": {"condition": {"test": "datum.value % 10 === 0", "value": -7}, "value": -4}}},
    "y": {"field": "p", "type": "quantitative", "scale": {"domain": [400, 5330], "nice": false, "zero": false}, "axis": {"orient": "left", "values": [500,1000,1500,2000,2500,3000,3500,4000,4500,5000], "format": "d", "labelExpr": "datum.value % 1000 === 0 ? datum.label : ''", "title": null, "tickSize": {"condition": {"test": "datum.value % 1000 === 0", "value": -8}, "value": -4}}},
    "y2": {"field": "P"}}},
  {"data": {"name": "lc"}, "mark": {"type": "rule", "color": "#ff0000", "strokeWidth": 2.3, "clip": true},
   "encoding": {
    "x": {"field": "t", "type": "quantitative", "scale": {"domain": [-9.5, 57.1], "nice": false, "zero": false}, "axis": null},
    "y": {"field": "a", "type": "quantitative", "scale": {"domain": [400, 5330], "nice": false, "zero": false}, "axis": null},
    "y2": {"field": "A"}}},
  {"data": {"values": [{"label": "TH0"}]}, "mark": {"type": "text", "align": "right", "baseline": "alphabetic", "fontSize": 15, "font": "Liberation Sans", "color": "#000"},
   "encoding": {
    "x": {"datum": 56.33, "type": "quantitative", "scale": {"domain": [-9.5, 57.1], "nice": false, "zero": false}, "axis": null},
    "y": {"datum": 4437, "type": "quantitative", "scale": {"domain": [400, 5330], "nice": false, "zero": false}, "axis": null},
    "text": {"field": "label"}}},
  {"data": {"name": "core"}, "mark": {"type": "point", "opacity": 0, "size": 0},
   "encoding": {
    "x": {"field": "t", "type": "quantitative", "scale": {"domain": [-9.5, 57.1], "nice": false, "zero": false}, "axis": {"orient": "top", "values": [-8,-6,-4,-2,0,2,4,6,8,10,12,14,16,18,20,22,24,26,28,30,32,34,36,38,40,42,44,46,48,50,52,54,56], "labels": false, "title": null, "tickSize": {"condition": {"test": "datum.value % 10 === 0", "value": -7}, "value": -4}}},
    "y": {"field": "p", "type": "quantitative", "scale": {"domain": [400, 5330], "nice": false, "zero": false}, "axis": {"orient": "right", "values": [500,1000,1500,2000,2500,3000,3500,4000,4500,5000], "labels": false, "title": null, "tickSize": {"condition": {"test": "datum.value % 1000 === 0", "value": -8}, "value": -4}}}}}
 ],
 "resolve": {"axis": {"x": "independent", "y": "independent"}}
},
{"width": 604, "height": 90,
 "layer": [
  {"data": {"name": "core"}, "mark": {"type": "area", "color": "#00ff00", "opacity": 1},
   "encoding": {
    "x": {"field": "t", "type": "quantitative", "scale": {"domain": [-9.5, 57.1], "nice": false, "zero": false}, "axis": {"orient": "bottom", "values": [-8,-6,-4,-2,0,2,4,6,8,10,12,14,16,18,20,22,24,26,28,30,32,34,36,38,40,42,44,46,48,50,52,54,56], "labels": false, "title": null, "tickSize": {"condition": {"test": "datum.value % 10 === 0", "value": -7}, "value": -4}}},
    "y": {"field": "q", "type": "quantitative", "scale": {"domain": [25, 2130], "nice": false, "zero": false}, "axis": {"orient": "left", "values": [100,200,300,400,500,600,700,800,900,1000,1100,1200,1300,1400,1500,1600,1700,1800,1900,2000,2100], "format": "d", "labelExpr": "datum.value % 500 === 0 ? datum.label : ''", "title": null, "tickSize": {"condition": {"test": "datum.value % 500 === 0", "value": -8}, "value": -4}}},
    "y2": {"field": "Q"}}},
  {"data": {"name": "lc"}, "mark": {"type": "rule", "color": "#00ff00", "strokeWidth": 2.3, "clip": true},
   "encoding": {
    "x": {"field": "t", "type": "quantitative", "scale": {"domain": [-9.5, 57.1], "nice": false, "zero": false}, "axis": null},
    "y": {"field": "b", "type": "quantitative", "scale": {"domain": [25, 2130], "nice": false, "zero": false}, "axis": null},
    "y2": {"field": "B"}}},
  {"data": {"values": [{"label": "TH1"}]}, "mark": {"type": "text", "align": "right", "baseline": "alphabetic", "fontSize": 15, "font": "Liberation Sans", "color": "#000"},
   "encoding": {
    "x": {"datum": 56.33, "type": "quantitative", "scale": {"domain": [-9.5, 57.1], "nice": false, "zero": false}, "axis": null},
    "y": {"datum": 1749, "type": "quantitative", "scale": {"domain": [25, 2130], "nice": false, "zero": false}, "axis": null},
    "text": {"field": "label"}}},
  {"data": {"name": "core"}, "mark": {"type": "point", "opacity": 0, "size": 0},
   "encoding": {
    "x": {"field": "t", "type": "quantitative", "scale": {"domain": [-9.5, 57.1], "nice": false, "zero": false}, "axis": {"orient": "top", "values": [-8,-6,-4,-2,0,2,4,6,8,10,12,14,16,18,20,22,24,26,28,30,32,34,36,38,40,42,44,46,48,50,52,54,56], "labels": false, "title": null, "tickSize": {"condition": {"test": "datum.value % 10 === 0", "value": -7}, "value": -4}}},
    "y": {"field": "q", "type": "quantitative", "scale": {"domain": [25, 2130], "nice": false, "zero": false}, "axis": {"orient": "right", "values": [100,200,300,400,500,600,700,800,900,1000,1100,1200,1300,1400,1500,1600,1700,1800,1900,2000,2100], "labels": false, "title": null, "tickSize": {"condition": {"test": "datum.value % 500 === 0", "value": -8}, "value": -4}}}}}
 ],
 "resolve": {"axis": {"x": "independent", "y": "independent"}}
},
{"width": 604, "height": 90,
 "layer": [
  {"data": {"name": "core"}, "mark": {"type": "area", "color": "#0000ff", "opacity": 1},
   "encoding": {
    "x": {"field": "t", "type": "quantitative", "scale": {"domain": [-9.5, 57.1], "nice": false, "zero": false}, "axis": {"orient": "bottom", "values": [-8,-6,-4,-2,0,2,4,6,8,10,12,14,16,18,20,22,24,26,28,30,32,34,36,38,40,42,44,46,48,50,52,54,56], "labels": false, "title": null, "tickSize": {"condition": {"test": "datum.value % 10 === 0", "value": -7}, "value": -4}}},
    "y": {"field": "r", "type": "quantitative", "scale": {"domain": [50, 2010], "nice": false, "zero": false}, "axis": {"orient": "left", "values": [100,200,300,400,500,600,700,800,900,1000,1100,1200,1300,1400,1500,1600,1700,1800,1900,2000], "format": "d", "labelExpr": "datum.value % 500 === 0 ? datum.label : ''", "title": "Counts/sec", "titleX": -60, "titleY": 52, "titleAngle": -90, "titleAlign": "center", "titleBaseline": "alphabetic", "tickSize": {"condition": {"test": "datum.value % 500 === 0", "value": -8}, "value": -4}}},
    "y2": {"field": "R"}}},
  {"data": {"name": "lc"}, "mark": {"type": "rule", "color": "#0000ff", "strokeWidth": 2.3, "clip": true},
   "encoding": {
    "x": {"field": "t", "type": "quantitative", "scale": {"domain": [-9.5, 57.1], "nice": false, "zero": false}, "axis": null},
    "y": {"field": "c", "type": "quantitative", "scale": {"domain": [50, 2010], "nice": false, "zero": false}, "axis": null},
    "y2": {"field": "C"}}},
  {"data": {"values": [{"label": "TH2"}]}, "mark": {"type": "text", "align": "right", "baseline": "alphabetic", "fontSize": 15, "font": "Liberation Sans", "color": "#000"},
   "encoding": {
    "x": {"datum": 56.33, "type": "quantitative", "scale": {"domain": [-9.5, 57.1], "nice": false, "zero": false}, "axis": null},
    "y": {"datum": 1655, "type": "quantitative", "scale": {"domain": [50, 2010], "nice": false, "zero": false}, "axis": null},
    "text": {"field": "label"}}},
  {"data": {"name": "core"}, "mark": {"type": "point", "opacity": 0, "size": 0},
   "encoding": {
    "x": {"field": "t", "type": "quantitative", "scale": {"domain": [-9.5, 57.1], "nice": false, "zero": false}, "axis": {"orient": "top", "values": [-8,-6,-4,-2,0,2,4,6,8,10,12,14,16,18,20,22,24,26,28,30,32,34,36,38,40,42,44,46,48,50,52,54,56], "labels": false, "title": null, "tickSize": {"condition": {"test": "datum.value % 10 === 0", "value": -7}, "value": -4}}},
    "y": {"field": "r", "type": "quantitative", "scale": {"domain": [50, 2010], "nice": false, "zero": false}, "axis": {"orient": "right", "values": [100,200,300,400,500,600,700,800,900,1000,1100,1200,1300,1400,1500,1600,1700,1800,1900,2000], "labels": false, "title": null, "tickSize": {"condition": {"test": "datum.value % 500 === 0", "value": -8}, "value": -4}}}}}
 ],
 "resolve": {"axis": {"x": "independent", "y": "independent"}}
},
{"width": 604, "height": 90,
 "layer": [
  {"data": {"name": "core"}, "mark": {"type": "area", "color": "#00ffff", "opacity": 1},
   "encoding": {
    "x": {"field": "t", "type": "quantitative", "scale": {"domain": [-9.5, 57.1], "nice": false, "zero": false}, "axis": {"orient": "bottom", "values": [-8,-6,-4,-2,0,2,4,6,8,10,12,14,16,18,20,22,24,26,28,30,32,34,36,38,40,42,44,46,48,50,52,54,56], "labels": false, "title": null, "tickSize": {"condition": {"test": "datum.value % 10 === 0", "value": -7}, "value": -4}}},
    "y": {"field": "s", "type": "quantitative", "scale": {"domain": [260, 3170], "nice": false, "zero": false}, "axis": {"orient": "left", "values": [400,600,800,1000,1200,1400,1600,1800,2000,2200,2400,2600,2800,3000], "format": "d", "labelExpr": "datum.value % 1000 === 0 ? datum.label : ''", "title": null, "tickSize": {"condition": {"test": "datum.value % 1000 === 0", "value": -8}, "value": -4}}},
    "y2": {"field": "S"}}},
  {"data": {"name": "lc"}, "mark": {"type": "rule", "color": "#00ffff", "strokeWidth": 2.3, "clip": true},
   "encoding": {
    "x": {"field": "t", "type": "quantitative", "scale": {"domain": [-9.5, 57.1], "nice": false, "zero": false}, "axis": null},
    "y": {"field": "d", "type": "quantitative", "scale": {"domain": [260, 3170], "nice": false, "zero": false}, "axis": null},
    "y2": {"field": "D"}}},
  {"data": {"values": [{"label": "TH3"}]}, "mark": {"type": "text", "align": "right", "baseline": "alphabetic", "fontSize": 15, "font": "Liberation Sans", "color": "#000"},
   "encoding": {
    "x": {"datum": 56.33, "type": "quantitative", "scale": {"domain": [-9.5, 57.1], "nice": false, "zero": false}, "axis": null},
    "y": {"datum": 2643, "type": "quantitative", "scale": {"domain": [260, 3170], "nice": false, "zero": false}, "axis": null},
    "text": {"field": "label"}}},
  {"data": {"name": "core"}, "mark": {"type": "point", "opacity": 0, "size": 0},
   "encoding": {
    "x": {"field": "t", "type": "quantitative", "scale": {"domain": [-9.5, 57.1], "nice": false, "zero": false}, "axis": {"orient": "top", "values": [-8,-6,-4,-2,0,2,4,6,8,10,12,14,16,18,20,22,24,26,28,30,32,34,36,38,40,42,44,46,48,50,52,54,56], "labels": false, "title": null, "tickSize": {"condition": {"test": "datum.value % 10 === 0", "value": -7}, "value": -4}}},
    "y": {"field": "s", "type": "quantitative", "scale": {"domain": [260, 3170], "nice": false, "zero": false}, "axis": {"orient": "right", "values": [400,600,800,1000,1200,1400,1600,1800,2000,2200,2400,2600,2800,3000], "labels": false, "title": null, "tickSize": {"condition": {"test": "datum.value % 1000 === 0", "value": -8}, "value": -4}}}}}
 ],
 "resolve": {"axis": {"x": "independent", "y": "independent"}}
},
{"width": 604, "height": 90,
 "layer": [
  {"data": {"name": "core"}, "mark": {"type": "area", "color": "#ff00ff", "opacity": 1},
   "encoding": {
    "x": {"field": "t", "type": "quantitative", "scale": {"domain": [-9.5, 57.1], "nice": false, "zero": false}, "axis": {"orient": "bottom", "values": [-8,-6,-4,-2,0,2,4,6,8,10,12,14,16,18,20,22,24,26,28,30,32,34,36,38,40,42,44,46,48,50,52,54,56], "format": "d", "labelExpr": "datum.value % 10 === 0 ? datum.label : ''", "title": "Time [sec] 0 = 2006/04/09 04:21:16.279", "titlePadding": 2, "tickSize": {"condition": {"test": "datum.value % 10 === 0", "value": -7}, "value": -4}}},
    "y": {"field": "u", "type": "quantitative", "scale": {"domain": [2540, 9720], "nice": false, "zero": false}, "axis": {"orient": "left", "values": [3000,4000,5000,6000,7000,8000,9000], "format": "d", "labelExpr": "datum.value % 2000 === 0 ? datum.label : ''", "title": null, "tickSize": {"condition": {"test": "datum.value % 2000 === 0", "value": -8}, "value": -4}}},
    "y2": {"field": "U"}}},
  {"data": {"name": "lc"}, "mark": {"type": "rule", "color": "#ff00ff", "strokeWidth": 2.3, "clip": true},
   "encoding": {
    "x": {"field": "t", "type": "quantitative", "scale": {"domain": [-9.5, 57.1], "nice": false, "zero": false}, "axis": null},
    "y": {"field": "e", "type": "quantitative", "scale": {"domain": [2540, 9720], "nice": false, "zero": false}, "axis": null},
    "y2": {"field": "E"}}},
  {"data": {"values": [{"label": "TH0123"}]}, "mark": {"type": "text", "align": "right", "baseline": "alphabetic", "fontSize": 15, "font": "Liberation Sans", "color": "#000"},
   "encoding": {
    "x": {"datum": 56.33, "type": "quantitative", "scale": {"domain": [-9.5, 57.1], "nice": false, "zero": false}, "axis": null},
    "y": {"datum": 8420, "type": "quantitative", "scale": {"domain": [2540, 9720], "nice": false, "zero": false}, "axis": null},
    "text": {"field": "label"}}},
  {"data": {"name": "core"}, "mark": {"type": "point", "opacity": 0, "size": 0},
   "encoding": {
    "x": {"field": "t", "type": "quantitative", "scale": {"domain": [-9.5, 57.1], "nice": false, "zero": false}, "axis": {"orient": "top", "values": [-8,-6,-4,-2,0,2,4,6,8,10,12,14,16,18,20,22,24,26,28,30,32,34,36,38,40,42,44,46,48,50,52,54,56], "labels": false, "title": null, "tickSize": {"condition": {"test": "datum.value % 10 === 0", "value": -7}, "value": -4}}},
    "y": {"field": "u", "type": "quantitative", "scale": {"domain": [2540, 9720], "nice": false, "zero": false}, "axis": {"orient": "right", "values": [3000,4000,5000,6000,7000,8000,9000], "labels": false, "title": null, "tickSize": {"condition": {"test": "datum.value % 2000 === 0", "value": -8}, "value": -4}}}}}
 ],
 "resolve": {"axis": {"x": "independent", "y": "independent"}}
}
],
"config": {
 "font": "Liberation Sans",
 "view": {"stroke": "#000", "strokeWidth": 1},
 "title": {"fontSize": 15.5, "fontWeight": "normal", "font": "Liberation Sans", "color": "#000"},
 "axis": {"labelFont": "Liberation Sans", "labelFontSize": 15.5, "labelColor": "#000", "titleFont": "Liberation Sans", "titleFontSize": 15.5, "titleFontWeight": "normal", "titleColor": "#000", "tickColor": "#333", "tickWidth": 1, "domain": false, "grid": false, "labelOverlap": false, "labelFlush": false, "zindex": 1},
 "axisX": {"labelPadding": 10},
 "axisY": {"labelPadding": 14}
}
}
